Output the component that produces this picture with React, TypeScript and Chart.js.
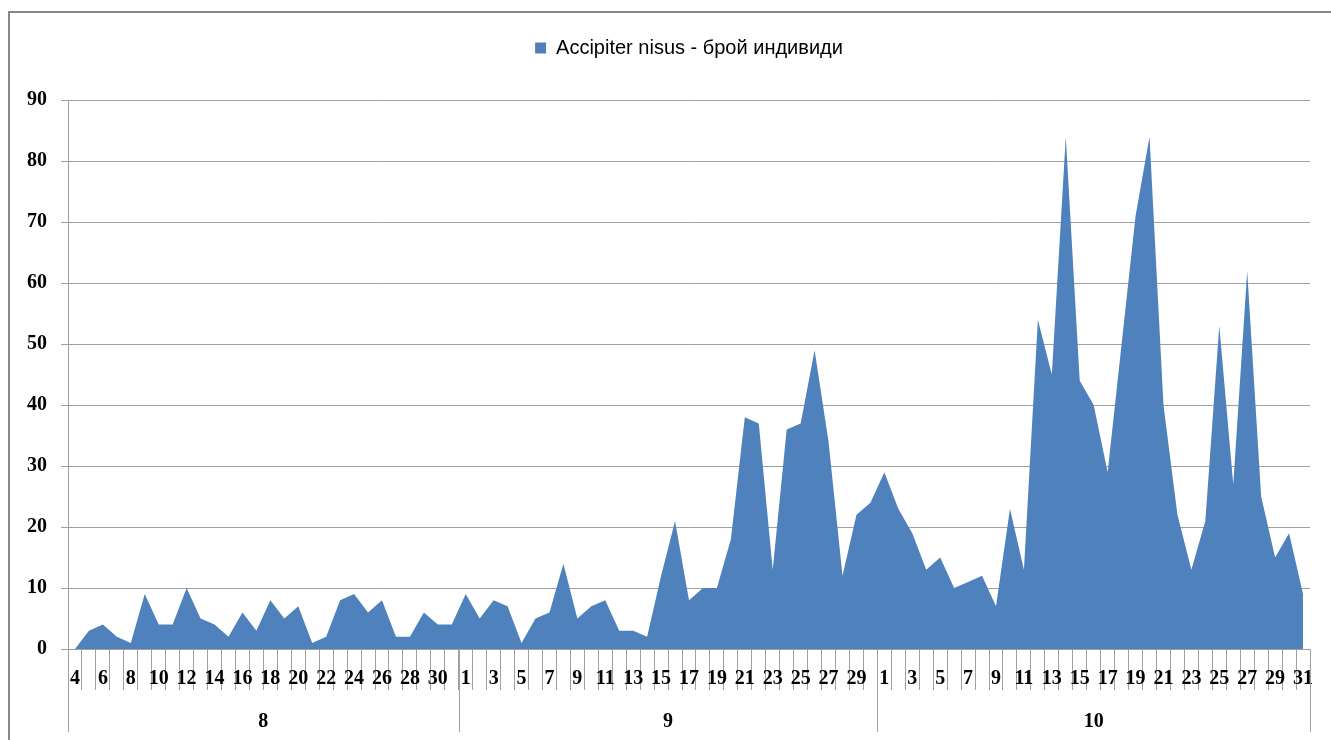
import React, { useEffect, useRef } from 'react';
import { Chart, registerables } from 'chart.js';

Chart.register(...registerables);

const seriesLabel = 'Accipiter nisus - брой индивиди';
const monthLabels = ['8', '9', '10'];

const augustDays = [4, 5, 6, 7, 8, 9, 10, 11, 12, 13, 14, 15, 16, 17, 18, 19, 20, 21, 22, 23, 24, 25, 26, 27, 28, 29, 30, 31];
const septemberDays = [1, 2, 3, 4, 5, 6, 7, 8, 9, 10, 11, 12, 13, 14, 15, 16, 17, 18, 19, 20, 21, 22, 23, 24, 25, 26, 27, 28, 29, 30];
const octoberDays = [1, 2, 3, 4, 5, 6, 7, 8, 9, 10, 11, 12, 13, 14, 15, 16, 17, 18, 19, 20, 21, 22, 23, 24, 25, 26, 27, 28, 29, 30, 31];

const augustCounts = [0, 3, 4, 2, 1, 9, 4, 4, 10, 5, 4, 2, 6, 3, 8, 5, 7, 1, 2, 8, 9, 6, 8, 2, 2, 6, 4, 4];
const septemberCounts = [9, 5, 8, 7, 1, 5, 6, 14, 5, 7, 8, 3, 3, 2, 12, 21, 8, 10, 10, 18, 38, 37, 13, 36, 37, 49, 34, 12, 22, 24];
const octoberCounts = [29, 23, 19, 13, 15, 10, 11, 12, 7, 23, 13, 54, 45, 84, 44, 40, 29, 50, 71, 84, 40, 22, 13, 21, 53, 27, 62, 25, 15, 19, 9];

const yMax = 90;
const yStep = 10;

const FILL = '#4f81bd';
const GRID = '#a0a0a0';
const TICK_FONT = "'Liberation Serif', 'DejaVu Serif', serif";
const LEGEND_FONT = "'Liberation Sans', 'DejaVu Sans', sans-serif";

export default function App() {
  const canvasRef = useRef<HTMLCanvasElement | null>(null);

  useEffect(() => {
    const canvas = canvasRef.current;
    if (!canvas) return;

    const monthDays = [augustDays, septemberDays, octoberDays];
    const dayLabels = monthDays.flat().map(String);
    const counts = [...augustCounts, ...septemberCounts, ...octoberCounts];

    const monthAxisPlugin = {
      id: 'monthAxis',
      afterDraw(chart: any) {
        const x = chart.scales.x;
        const { ctx, chartArea } = chart;
        const step = x.getPixelForValue(1) - x.getPixelForValue(0);
        const lineBottom = 732;
        ctx.save();
        ctx.strokeStyle = GRID;
        ctx.lineWidth = 1;
        ctx.fillStyle = '#000';
        ctx.font = `bold 20px ${TICK_FONT}`;
        ctx.textAlign = 'center';
        ctx.textBaseline = 'middle';
        let start = 0;
        monthDays.forEach((days, m) => {
          const from = x.getPixelForValue(start) - step / 2;
          const to = x.getPixelForValue(start + days.length - 1) + step / 2;
          [from, to].forEach((px) => {
            const xx = Math.round(px) + 0.5;
            ctx.beginPath();
            ctx.moveTo(xx, chartArea.bottom);
            ctx.lineTo(xx, lineBottom);
            ctx.stroke();
          });
          ctx.fillText(monthLabels[m], (from + to) / 2, 722);
          start += days.length;
        });
        ctx.restore();
      },
    };

    const chart = new Chart(canvas, {
      type: 'line',
      data: {
        labels: dayLabels,
        datasets: [
          {
            label: seriesLabel,
            data: counts,
            fill: 'origin',
            backgroundColor: FILL,
            borderColor: FILL,
            borderWidth: 0,
            pointRadius: 0,
            tension: 0,
          },
        ],
      },
      options: {
        animation: false,
        responsive: true,
        maintainAspectRatio: false,
        devicePixelRatio: 1,
        layout: { padding: { top: 28, right: 21, bottom: 0, left: 0 } },
        plugins: {
          legend: {
            display: true,
            position: 'top',
            fullSize: false,
            weight: 3000,
            labels: {
              boxWidth: 11,
              boxHeight: 11,
              padding: 10,
              color: '#000',
              font: { family: LEGEND_FONT, size: 20 },
            },
          },
          title: {
            display: true,
            text: '',
            padding: { top: 0, bottom: 31 },
            font: { size: 1 },
          },
          tooltip: { enabled: false },
        },
        scales: {
          x: {
            type: 'category',
            offset: true,
            afterFit(scale: any) {
              scale.height = 91;
            },
            grid: {
              display: true,
              offset: true,
              drawOnChartArea: false,
              drawTicks: true,
              tickLength: 41,
              color: GRID,
            },
            border: { display: true, color: GRID },
            ticks: {
              autoSkip: false,
              maxRotation: 0,
              minRotation: 0,
              padding: -23,
              color: '#000',
              font: { family: TICK_FONT, size: 20, weight: 'bold' },
              callback: (_v: any, i: number) => (i % 2 === 0 ? dayLabels[i] : ''),
            },
          },
          y: {
            min: 0,
            max: yMax,
            afterFit(scale: any) {
              scale.width = 68;
            },
            grid: {
              color: GRID,
              drawTicks: true,
              tickLength: 7,
            },
            border: { display: true, color: GRID },
            ticks: {
              stepSize: yStep,
              padding: 14,
              color: '#000',
              font: { family: TICK_FONT, size: 20, weight: 'bold' },
            },
          },
        },
      },
      plugins: [monthAxisPlugin],
    });

    return () => chart.destroy();
  }, []);

  return (
    <div style={{ position: 'absolute', left: 0, top: 0, width: 1331, height: 740, background: '#fff', overflow: 'hidden' }}>
      <div
        style={{
          position: 'absolute',
          left: 8,
          top: 11,
          width: 1400,
          height: 800,
          borderLeft: '2px solid #878787',
          borderTop: '2px solid #878787',
        }}
      />
      <div style={{ position: 'absolute', left: 0, top: 0, width: 1331, height: 740 }}>
        <canvas ref={canvasRef} />
      </div>
    </div>
  );
}
